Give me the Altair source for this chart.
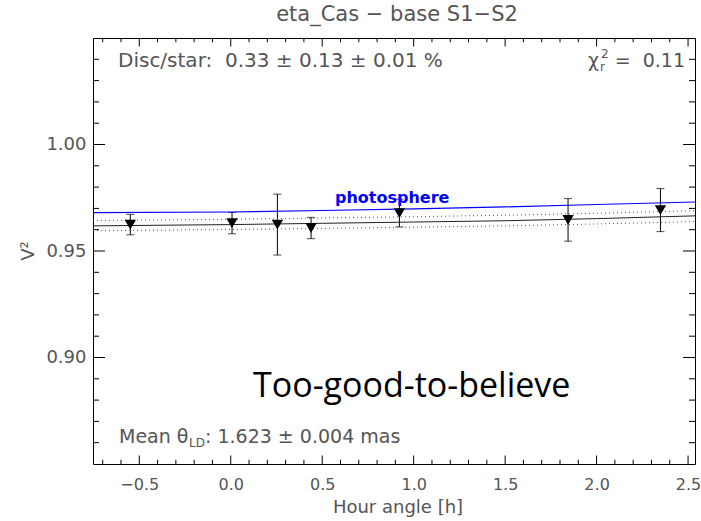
import altair as alt
import pandas as pd

# ---------------- data ----------------
hour = [-0.549, 0.007, 0.255, 0.439, 0.922, 1.844, 2.349]
v2 = [0.9624, 0.9631, 0.9624, 0.9608, 0.9678, 0.9646, 0.9692]
v2_err = [0.0048, 0.0050, 0.0143, 0.0050, 0.0065, 0.0100, 0.0101]

model_hour = [-0.753, 0.0, 0.5, 1.0, 1.5, 2.0, 2.538]
photosphere = [0.9680, 0.9683, 0.9690, 0.9698, 0.9707, 0.9718, 0.9730]
fit = [0.9618, 0.9624, 0.9630, 0.9636, 0.9642, 0.9652, 0.9665]
fit_upper = [0.9643, 0.9649, 0.9655, 0.9661, 0.9668, 0.9677, 0.9689]
fit_lower = [0.9595, 0.9601, 0.9606, 0.9612, 0.9618, 0.9627, 0.9638]

x_major = [-0.5, 0.0, 0.5, 1.0, 1.5, 2.0, 2.5]
x_minor = [-0.7, -0.6, -0.4, -0.3, -0.2, -0.1, 0.1, 0.2, 0.3, 0.4,
           0.6, 0.7, 0.8, 0.9, 1.1, 1.2, 1.3, 1.4, 1.6, 1.7, 1.8, 1.9,
           2.1, 2.2, 2.3, 2.4]
y_major = [0.90, 0.95, 1.00]
y_minor = [0.86, 0.87, 0.88, 0.89, 0.91, 0.92, 0.93, 0.94, 0.96, 0.97,
           0.98, 0.99, 1.01, 1.02, 1.03, 1.04]

x_domain = [-0.753, 2.538]
y_domain = [0.85, 1.05]

# ---------------- layout ----------------
W, H = 602, 426
GRAY = "#555555"
HFONT = "DejaVu Sans"

xs = alt.Scale(domain=x_domain, nice=False, zero=False)
ys = alt.Scale(domain=y_domain, nice=False, zero=False)

obs = pd.DataFrame({
    "hour": hour,
    "v2": v2,
    "lo": [v - e for v, e in zip(v2, v2_err)],
    "hi": [v + e for v, e in zip(v2, v2_err)],
})
mod = pd.DataFrame({
    "hour": model_hour,
    "photo": photosphere,
    "fit": fit,
    "up": fit_upper,
    "low": fit_lower,
})

x_axis = alt.Axis(values=x_major, format=".1f", ticks=False, tickSize=0,
                  domain=False, grid=False, labelFont=HFONT, labelFontSize=16,
                  labelColor=GRAY, labelPadding=12, labelFlush=False, title=None)
y_axis = alt.Axis(values=y_major, format=".2f", ticks=False, tickSize=0,
                  domain=False, grid=False, labelFont=HFONT, labelFontSize=18,
                  labelColor=GRAY, labelPadding=7, title=None)


def X(field):
    return alt.X(field, scale=xs, axis=x_axis)


def Y(field):
    return alt.Y(field, scale=ys, axis=y_axis)


err_rule = alt.Chart(obs).mark_rule(color="black", strokeWidth=1).encode(
    x=X("hour:Q"), y=Y("lo:Q"), y2="hi:Q",
)
cap_lo = alt.Chart(obs).mark_tick(color="black", orient="horizontal", size=8,
                                  thickness=1).encode(
    x=X("hour:Q"), y=Y("lo:Q"),
)
cap_hi = alt.Chart(obs).mark_tick(color="black", orient="horizontal", size=8,
                                  thickness=1).encode(
    x=X("hour:Q"), y=Y("hi:Q"),
)
pts = alt.Chart(obs).mark_point(shape="triangle-down", filled=True, size=130,
                                color="black", opacity=1).encode(
    x=X("hour:Q"), y=Y("v2:Q"),
)


def model_line(field, color, dash=None, width=1.0):
    kw = dict(color=color, strokeWidth=width)
    if dash:
        kw["strokeDash"] = dash
    return alt.Chart(mod).mark_line(**kw).encode(
        x=X("hour:Q"), y=Y(f"{field}:Q"),
    )


photo_line = model_line("photo", "#0000ff", width=1.1)
fit_line = model_line("fit", "#222222", width=1.0)
up_line = model_line("up", "#555555", dash=[1, 3], width=1.0)
low_line = model_line("low", "#555555", dash=[1, 3], width=1.0)


def xticks(vals, y0, y1):
    return alt.Chart(pd.DataFrame({"v": vals})).mark_rule(
        color="black", strokeWidth=1).encode(
        x=X("v:Q"), y=alt.value(y0), y2=alt.value(y1))


def yticks(vals, x0, x1):
    return alt.Chart(pd.DataFrame({"v": vals})).mark_rule(
        color="black", strokeWidth=1).encode(
        y=Y("v:Q"), x=alt.value(x0), x2=alt.value(x1))


XT, YT = 8.5, 12
tick_layers = [
    xticks(x_major, H, H - XT), xticks(x_major, 0, XT),
    xticks(x_minor, H, H - XT / 2), xticks(x_minor, 0, XT / 2),
    yticks(y_major, 0, YT), yticks(y_major, W, W - YT),
    yticks(y_minor, 0, YT / 2), yticks(y_minor, W, W - YT / 2),
]


def label(txt, x, y, size=19, color=GRAY, font=HFONT, align="left",
          baseline="alphabetic", weight="normal", angle=0):
    return alt.Chart(pd.DataFrame({"t": [txt]})).mark_text(
        font=font, fontSize=size, color=color, align=align,
        baseline=baseline, fontWeight=weight, angle=angle).encode(
        text="t:N", x=alt.value(x), y=alt.value(y))


texts = [
    label("eta_Cas \u2212 base S1\u2212S2", 304, -17, size=21, align="center"),
    label("Disc/star:\u00a0\u00a00.33 \u00b1 0.13 \u00b1 0.01 %", 25, 29,
          size=20),
    label("\u03c7", 495, 29),
    label("r", 507, 33, size=12),
    label("2", 508, 20, size=12),
    label("=\u00a0\u00a00.11", 592, 29, align="right"),
    label("Mean \u03b8", 26, 405),
    label("LD", 96, 409, size=12),
    label(": 1.623 \u00b1 0.004 mas", 112, 405),
    label("photosphere", 242, 165, size=16, color="#0000ff", weight="bold"),
    label("Too-good-to-believe", 160, 359, size=34, color="black",
          font="Open Sans"),
    label("Hour angle [h]", 305, 470, size=18, align="center",
          baseline="middle"),
    label("V\u00b2", -64, 213, size=18, align="center", baseline="middle",
          angle=270),
]

chart = alt.layer(
    err_rule, cap_lo, cap_hi,
    photo_line, fit_line, up_line, low_line,
    pts, *tick_layers, *texts,
).properties(
    width=W, height=H,
    padding={"left": 93, "top": 38, "right": 6, "bottom": 57},
    autosize=alt.AutoSizeParams(type="none"),
    background="white",
).configure_view(stroke="black", strokeWidth=1)

chart.save("out.html", embed_options={"renderer": "svg", "actions": False})
